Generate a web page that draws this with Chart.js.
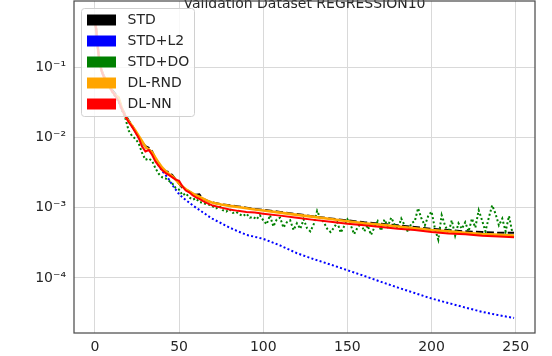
<!DOCTYPE html>
<html><head><meta charset="utf-8">
<script src="https://cdn.jsdelivr.net/npm/chart.js@4/dist/chart.umd.min.js"></script>
<style>html,body{margin:0;padding:0;background:#fff;}canvas{display:block;}</style>
</head><body>
<canvas id="c" width="552" height="356"></canvas>
<script>
const titleText = 'Validation Dataset REGRESSION10';
const seriesLabels = ['STD', 'STD+L2', 'STD+DO', 'DL-RND', 'DL-NN'];
const seriesColors = ['#000000', '#0000ff', '#008000', '#ffa500', '#ff0000'];

const smoothEpochs = [0,1,2,3,4,5,6,8,10,12,14,16,18,20,22,24,26,28,30,32,34,36,38,40,42,44,46,48,50,52,54,56,58,60,62,64,66,68,70,75,80,85,90,95,100,110,120,130,140,150,160,170,180,190,200,210,220,230,240,249];

const stdLoss = [0.50,0.32,0.17,0.115,0.090,0.078,0.070,0.060,0.048,0.042,0.036,0.026,0.021,0.0175,0.0148,0.0122,0.0100,0.0085,0.0075,0.0071,0.0063,0.0049,0.0041,0.0036,0.0033,0.0032,0.0029,0.0025,0.0022,0.0019,0.00180,0.00170,0.00158,0.00152,0.00155,0.00135,0.00128,0.00122,0.00118,0.00112,0.00108,0.00104,0.00100,0.00096,0.00093,0.00087,0.00081,0.00075,0.00070,0.00066,0.00062,0.00059,0.00056,0.00053,0.00050,0.00048,0.00046,0.00045,0.00044,0.00044];

const l2Loss = [0.49,0.31,0.165,0.112,0.088,0.077,0.069,0.059,0.047,0.041,0.035,0.025,0.0205,0.0170,0.0145,0.0120,0.0098,0.0082,0.0072,0.0068,0.0060,0.0047,0.0039,0.0033,0.0029,0.0025,0.0021,0.0018,0.00155,0.00140,0.00128,0.00118,0.00108,0.00100,0.00093,0.00086,0.00080,0.00074,0.00069,0.00060,0.00052,0.00046,0.00041,0.000385,0.00036,0.00029,0.000225,0.000185,0.000155,0.000129,0.000107,0.000088,0.000073,0.000061,0.000051,0.000044,0.000038,0.000033,0.0000295,0.000027];

const rndLoss = [0.48,0.30,0.16,0.11,0.088,0.076,0.068,0.058,0.046,0.040,0.037,0.026,0.020,0.0170,0.0146,0.0125,0.0105,0.0088,0.0073,0.0067,0.0061,0.0051,0.0043,0.0037,0.0033,0.0030,0.0028,0.0025,0.0022,0.0020,0.00182,0.00170,0.00160,0.00150,0.00143,0.00135,0.00128,0.00122,0.00117,0.00111,0.00106,0.00102,0.00098,0.00094,0.00091,0.00085,0.00079,0.00074,0.00069,0.00064,0.00060,0.00057,0.00054,0.00051,0.00048,0.00046,0.00044,0.00042,0.00041,0.00040];

const nnLoss = [0.47,0.29,0.16,0.11,0.087,0.075,0.067,0.057,0.046,0.039,0.033,0.025,0.020,0.0165,0.0142,0.0118,0.0098,0.0074,0.0063,0.0066,0.0056,0.0045,0.0039,0.0034,0.0031,0.0029,0.0027,0.0025,0.0024,0.0020,0.00175,0.00165,0.00150,0.00140,0.00133,0.00125,0.00118,0.00112,0.00107,0.00100,0.00094,0.00090,0.00087,0.00085,0.00082,0.00077,0.00072,0.00067,0.00063,0.00059,0.00056,0.00053,0.00050,0.00048,0.00045,0.00043,0.00042,0.00040,0.00039,0.00038];

const doEpochs = [0,2,4,6,8,10,12,14,16,18,20,22,24,26,28,30,32,34,36,38,40,42,44,46,48,50,52,54,56,58,60,62,64,66,68,70,72,74,76,78,80,82,84,86,88,90,92,94,96,98,100,102,104,106,108,110,112,114,116,118,120,122,124,126,128,130,132,134,136,138,140,142,144,146,148,150,152,154,156,158,160,162,164,166,168,170,172,174,176,178,180,182,184,186,188,190,192,194,196,198,200,202,204,206,208,210,212,214,216,218,220,222,224,226,228,230,232,234,236,238,240,242,244,246,248];

const doLoss = [0.45,0.15,0.085,0.066,0.055,0.045,0.038,0.032,0.024,0.019,
 0.0125,0.0105,0.0095,0.0082,0.0060,0.0048,0.0050,0.0046,0.0036,0.0030,
 0.0027,0.0026,0.0024,0.0022,0.0019,0.0018,0.0015,0.0016,0.0014,0.0013,
 0.00135,0.0012,0.00118,0.00112,0.0011,0.00104,0.00098,0.00105,0.00092,0.00088,
 0.00095,0.00084,0.00087,0.0008,0.00076,0.00082,0.00072,0.00074,0.00068,0.00078,
 0.00066,0.00058,0.00078,0.00054,0.00068,0.00072,0.00052,0.00062,0.00066,0.00048,
 0.00060,0.00050,0.00068,0.00051,0.00046,0.00058,0.00090,0.00070,0.00062,0.00050,
 0.00045,0.00052,0.00062,0.00044,0.00054,0.00068,0.00056,0.00042,0.00052,0.00060,
 0.00046,0.00056,0.00041,0.00052,0.00064,0.00047,0.00068,0.00054,0.00072,0.00058,
 0.00050,0.00070,0.00056,0.00045,0.00060,0.00064,0.00098,0.00070,0.00056,0.00076,
 0.00088,0.00050,0.00035,0.00078,0.00056,0.00044,0.00066,0.00040,0.00060,0.00050,
 0.00062,0.00046,0.00070,0.00052,0.00092,0.00066,0.00046,0.00072,0.00108,0.00082,
 0.00056,0.00070,0.00046,0.00076,0.00044];

const xTicks = [0, 50, 100, 150, 200, 250];
const yTicks = [1e-4, 1e-3, 1e-2, 1e-1];
const yTickLabels = ['10\u207B\u2074', '10\u207B\u00B3', '10\u207B\u00B2', '10\u207B\u00B9'];

const FONT = 'DejaVu Sans';
const TXT = '#262626';

function pts(xs, ys) { return xs.map((x, i) => ({ x: x, y: ys[i] })); }

const framePlugin = {
  id: 'frame',
  afterDatasetsDraw(chart) {
    const a = chart.chartArea, ctx = chart.ctx;
    ctx.save();
    ctx.strokeStyle = '#4d4d4d';
    ctx.lineWidth = 1.25;
    ctx.strokeRect(a.left, a.top, a.right - a.left, a.bottom - a.top);
    ctx.restore();
  }
};

const legendPlugin = {
  id: 'mplLegend',
  afterDraw(chart) {
    const a = chart.chartArea, ctx = chart.ctx;
    const x0 = a.left + 7.5, y0 = a.top + 7.5, w = 113, h = 108, r = 3;
    ctx.save();
    ctx.beginPath();
    ctx.moveTo(x0 + r, y0);
    ctx.lineTo(x0 + w - r, y0); ctx.arcTo(x0 + w, y0, x0 + w, y0 + r, r);
    ctx.lineTo(x0 + w, y0 + h - r); ctx.arcTo(x0 + w, y0 + h, x0 + w - r, y0 + h, r);
    ctx.lineTo(x0 + r, y0 + h); ctx.arcTo(x0, y0 + h, x0, y0 + h - r, r);
    ctx.lineTo(x0, y0 + r); ctx.arcTo(x0, y0, x0 + r, y0, r);
    ctx.closePath();
    ctx.fillStyle = 'rgba(255,255,255,0.8)';
    ctx.fill();
    ctx.strokeStyle = '#d0d0d0';
    ctx.lineWidth = 1;
    ctx.stroke();
    ctx.font = '14px "' + FONT + '"';
    ctx.textBaseline = 'middle';
    ctx.textAlign = 'left';
    const items = chart.data.datasets.slice().sort((p, q) => p.legendIndex - q.legendIndex);
    items.forEach((ds, i) => {
      const cy = y0 + 11.5 + i * 21;
      ctx.fillStyle = ds.borderColor;
      ctx.fillRect(x0 + 5.5, cy - 5.5, 29, 11);
      ctx.fillStyle = TXT;
      ctx.fillText(ds.label, x0 + 46, cy + 0.5);
    });
    ctx.restore();
  }
};

const datasets = [
  { label: seriesLabels[0], data: pts(smoothEpochs, stdLoss), borderColor: seriesColors[0], borderWidth: 2, borderDash: [7.4, 3.2], order: 4, legendIndex: 0 },
  { label: seriesLabels[1], data: pts(smoothEpochs, l2Loss), borderColor: seriesColors[1], borderWidth: 2, borderDash: [2, 2.3], order: 3, legendIndex: 1 },
  { label: seriesLabels[2], data: pts(doEpochs, doLoss), borderColor: seriesColors[2], borderWidth: 2, borderDash: [2, 2.3], order: 2, legendIndex: 2 },
  { label: seriesLabels[3], data: pts(smoothEpochs, rndLoss), borderColor: seriesColors[3], borderWidth: 2.6, order: 1, legendIndex: 3 },
  { label: seriesLabels[4], data: pts(smoothEpochs, nnLoss), borderColor: seriesColors[4], borderWidth: 2, order: 0, legendIndex: 4 }
];

new Chart(document.getElementById('c'), {
  type: 'line',
  data: { datasets: datasets },
  options: {
    responsive: false,
    animation: false,
    devicePixelRatio: 1,
    layout: { padding: { left: 0, right: 17, top: 0, bottom: 0 } },
    elements: { point: { radius: 0 }, line: { tension: 0, fill: false, borderCapStyle: 'butt' } },
    plugins: {
      legend: { display: false },
      tooltip: { enabled: false },
      title: {
        display: true, text: titleText, fullSize: false, color: TXT,
        font: { family: FONT, size: 14, weight: 'normal', lineHeight: 1.2 },
        padding: { top: -4.2, bottom: -11.6 }
      }
    },
    scales: {
      x: {
        type: 'linear', min: -12.45, max: 261.45,
        afterBuildTicks: s => { s.ticks = xTicks.map(v => ({ value: v })); },
        afterFit: s => { s.height = 23; s.paddingLeft = 0; s.paddingRight = 0; },
        ticks: { color: TXT, font: { family: FONT, size: 14 }, padding: 6, maxRotation: 0, autoSkip: false },
        grid: { color: '#d9d9d9', lineWidth: 1, drawTicks: false },
        border: { display: false }
      },
      y: {
        type: 'logarithmic', min: 1.65e-5, max: 0.868,
        afterBuildTicks: s => { s.ticks = yTicks.map(v => ({ value: v })); },
        afterFit: s => { s.width = 74; s.paddingTop = 0; s.paddingBottom = 0; },
        ticks: {
          color: TXT, font: { family: FONT, size: 14 }, padding: 8, autoSkip: false,
          callback: v => { const i = yTicks.findIndex(t => Math.abs(Math.log10(t) - Math.log10(v)) < 1e-6); return i >= 0 ? yTickLabels[i] : ''; }
        },
        grid: { color: '#d9d9d9', lineWidth: 1, drawTicks: false },
        border: { display: false }
      }
    }
  },
  plugins: [framePlugin, legendPlugin]
});
</script>
</body></html>
